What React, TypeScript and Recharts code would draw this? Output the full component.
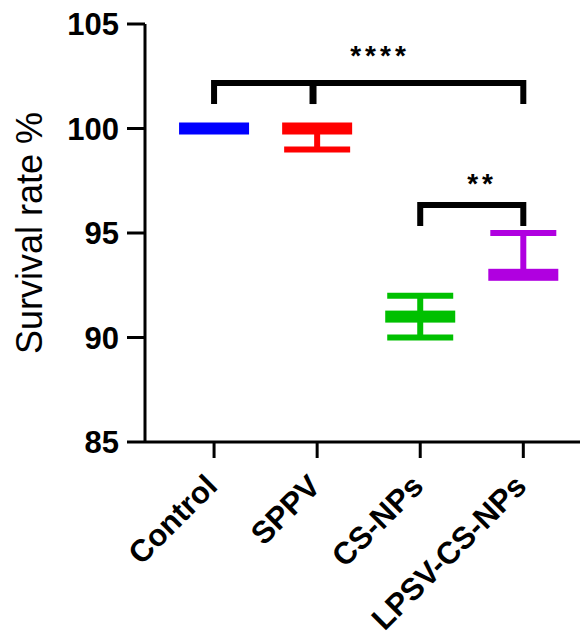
import React from "react";
import { ComposedChart, Scatter, XAxis, YAxis, ErrorBar } from "recharts";

document.body.style.margin = "0";

const groups = ["Control", "SPPV", "CS-NPs", "LPSV-CS-NPs"];
const means = [100, 100, 91, 93];
const errLow = [0, 1, 1, 0];
const errHigh = [0, 0, 1, 2];
const colors = ["#0000ff", "#ff0000", "#00c000", "#b000e0"];
const yTicks = [85, 90, 95, 100, 105];

// significance brackets: [group index from, group index to], bar height, leg bottom
const brackets = [
  { legs: [1, 4], top: 102.18, foot: 101.17 },
  { legs: [3, 4], top: 96.34, foot: 95.33 },
];
const extraLegs = [{ x: 1.96, top: 102.18, foot: 101.17 }];
const stars = [
  { x: 2.61, y: 103.8, text: "****" },
  { x: 3.6, y: 97.68, text: "**" },
];

const font = "'Liberation Sans', Arial, sans-serif";

const MeanBar = (props: any) => (
  <rect x={props.cx - 35} y={props.cy - 6} width={70} height={12} fill={props.fill} />
);

const XTick = (props: any) => {
  const { x, y, payload } = props;
  return (
    <g transform={`translate(${x + 5},${y + 28})`}>
      <text
        textAnchor="end"
        transform="rotate(-45)"
        fontFamily={font}
        fontWeight="bold"
        fontSize={31}
        fill="#000"
      >
        {groups[payload.value - 1]}
      </text>
    </g>
  );
};

const StarLabel = (text: string) => (props: any) => (
  <text
    x={props.cx}
    y={props.cy + 16}
    textAnchor="middle"
    fontFamily={font}
    fontWeight="bold"
    fontSize={28}
    letterSpacing={4}
    fill="#000"
  >
    {text}
  </text>
);

const Nothing = () => <g />;

export default function App() {
  return (
    <ComposedChart
      width={584}
      height={632}
      margin={{ top: 24, right: 4, bottom: 0, left: 0 }}
      style={{ background: "#fff" }}
    >
      <XAxis
        type="number"
        dataKey="x"
        domain={[0.33, 4.55]}
        ticks={[1, 2, 3, 4]}
        allowDataOverflow
        height={190}
        tick={<XTick />}
        tickSize={16}
        tickLine={{ stroke: "#000", strokeWidth: 3 }}
        axisLine={{ stroke: "#000", strokeWidth: 3 }}
        interval={0}
      />
      <YAxis
        type="number"
        dataKey="y"
        domain={[85, 105]}
        ticks={yTicks}
        allowDataOverflow
        width={145}
        tickSize={18}
        tickMargin={8}
        tick={{ fill: "#000", fontSize: 31, fontWeight: "bold", fontFamily: font }}
        tickLine={{ stroke: "#000", strokeWidth: 3 }}
        axisLine={{ stroke: "#000", strokeWidth: 3 }}
        label={{
          content: (p: any) => {
            const vb = p.viewBox;
            const cx = vb.x + 42;
            const cy = vb.y + vb.height / 2;
            return (
              <text
                x={cx}
                y={cy}
                transform={`rotate(-90 ${cx} ${cy})`}
                textAnchor="middle"
                fontFamily={font}
                fontSize={36}
                fill="#000"
              >
                Survival rate %
              </text>
            );
          },
        }}
      />
      {brackets.map((b, i) => (
        <Scatter
          key={"br" + i}
          data={[
            { x: b.legs[0], y: b.foot },
            { x: b.legs[0], y: b.top },
            { x: b.legs[1], y: b.top },
            { x: b.legs[1], y: b.foot },
          ]}
          line={{ stroke: "#000", strokeWidth: 6 }}
          shape={<Nothing />}
          isAnimationActive={false}
        />
      ))}
      {extraLegs.map((l, i) => (
        <Scatter
          key={"leg" + i}
          data={[
            { x: l.x, y: l.foot },
            { x: l.x, y: l.top },
          ]}
          line={{ stroke: "#000", strokeWidth: 7 }}
          shape={<Nothing />}
          isAnimationActive={false}
        />
      ))}
      {stars.map((s, i) => (
        <Scatter
          key={"st" + i}
          data={[{ x: s.x, y: s.y }]}
          shape={StarLabel(s.text)}
          isAnimationActive={false}
        />
      ))}
      {groups.map((g, i) => (
        <Scatter
          key={g}
          name={g}
          data={[{ x: i + 1, y: means[i], err: [errLow[i], errHigh[i]] }]}
          fill={colors[i]}
          shape={<MeanBar />}
          isAnimationActive={false}
        >
          <ErrorBar
            dataKey="err"
            direction="y"
            width={33}
            strokeWidth={6}
            stroke={colors[i]}
            isAnimationActive={false}
          />
        </Scatter>
      ))}
    </ComposedChart>
  );
}
